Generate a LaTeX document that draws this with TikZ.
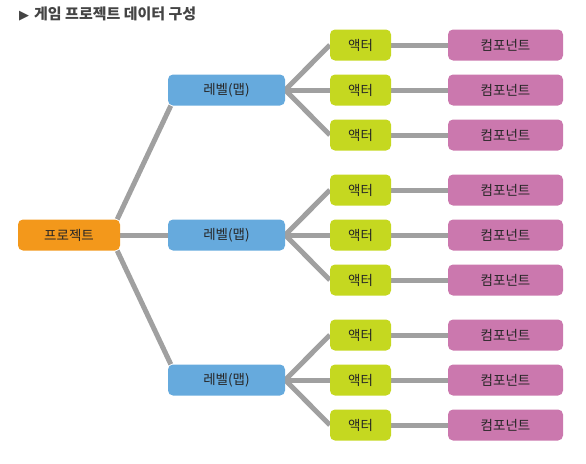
\documentclass[tikz,border=0pt]{standalone}
\usepackage{fontspec}
\setmainfont{Noto Sans CJK KR}
\newfontfamily\symfont{DejaVu Sans}
\usetikzlibrary{backgrounds}
\definecolor{projorange}{RGB}{243,152,27}
\definecolor{levelblue}{RGB}{102,170,221}
\definecolor{actorgreen}{RGB}{197,216,32}
\definecolor{comppink}{RGB}{203,120,174}
\definecolor{linegray}{RGB}{160,160,160}
\definecolor{titlegray}{RGB}{68,68,68}

\begin{document}
\begin{tikzpicture}[x=1pt,y=-1pt,
    box/.style={rounded corners=5pt,minimum height=31pt,inner sep=0pt,text=black!85,font=\fontsize{13.5}{15}\selectfont},
    link/.style={line width=5pt,draw=linegray}]
        \useasboundingbox (0,0) rectangle (586,463);
        \node[anchor=west,text=titlegray,inner sep=0pt,font=\fontsize{15}{17}\selectfont\bfseries] (title) at (19,14) {{\symfont\fontsize{13}{14}\selectfont ▶}\hspace{5pt}게임 프로젝트 데이터 구성};
        \node[box,fill=projorange,minimum width=102pt] (proj) at (69,235) {프로젝트};
        \foreach \i/\y in {1/90,2/235,3/380} {
                \node[box,fill=levelblue,minimum width=117pt] (lv\i) at (226.5,\y) {레벨(맵)};
                \foreach \j/\d in {1/-45,2/0,3/45} {
                        \node[box,fill=actorgreen,minimum width=61pt] (ac\i\j) at (360.5,\y+\d) {액터};
                        \node[box,fill=comppink,minimum width=115pt] (cp\i\j) at (505.5,\y+\d) {컴포넌트};
                        \begin{scope}[on background layer]
                                \draw[link] (lv\i.east) -- (ac\i\j.west);
                                \draw[link] (ac\i\j.east) -- (cp\i\j.west);
                        \end{scope}
                }
        }
        \begin{scope}[on background layer]
                \draw[link] ([xshift=-3pt]proj.north east) -- ([xshift=3pt]lv1.south west);
                \draw[link] (proj.east) -- (lv2.west);
                \draw[link] ([xshift=-3pt]proj.south east) -- ([xshift=3pt]lv3.north west);
        \end{scope}
\end{tikzpicture}
\end{document}
